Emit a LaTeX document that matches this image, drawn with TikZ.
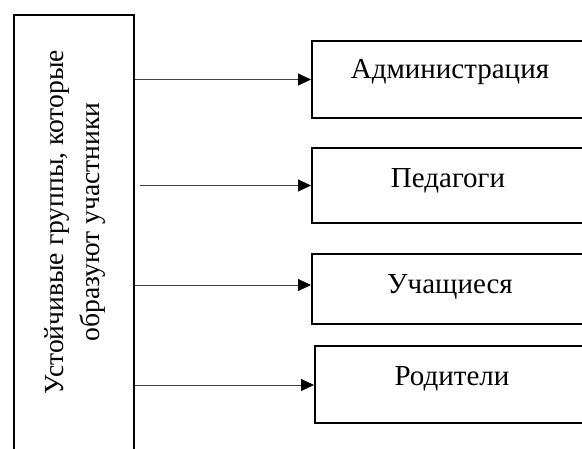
\documentclass[tikz,border=0pt]{standalone}
\usepackage{fontspec}
\setmainfont{Liberation Serif}
\usetikzlibrary{arrows.meta}
\begin{document}
\begin{tikzpicture}[x=1pt,y=-1pt,
  box/.style={draw=black, line width=2pt, inner sep=0pt, anchor=north west},
  lbl/.style={anchor=base, inner sep=0pt, font=\fontsize{29}{34}\selectfont},
  conn/.style={draw=black!75, line width=1pt, -{Triangle[length=13pt,width=12pt,fill=black,color=black]}}]
\useasboundingbox (0,0) rectangle (582,448);
\begin{scope}
\clip (0,0) rectangle (582,448);
\node[box, minimum width=120pt, minimum height=450pt] (L) at (13,14) {};
\node[rotate=90, align=center, inner sep=0pt, font=\fontsize{27.6}{36}\selectfont] (LT) at (75,222) {Устойчивые группы, которые\\образуют участники};
\node[box, minimum width=280pt, minimum height=77pt] (A) at (311,40) {};
\node[box, minimum width=280pt, minimum height=75pt] (P) at (311,147) {};
\node[box, minimum width=280pt, minimum height=70pt] (U) at (311,253) {};
\node[box, minimum width=277pt, minimum height=77pt] (R) at (314,345) {};
\node[lbl] (AT) at (450,78) {Администрация};
\node[lbl] (PT) at (448,187) {Педагоги};
\node[lbl] (UT) at (450,293) {Учащиеся};
\node[lbl] (RT) at (452,385) {Родители};
\end{scope}
\coordinate (a1) at (L.east |- A.west);
\coordinate (p1) at ([xshift=5pt]L.east |- P.west);
\coordinate (u1) at (L.east |- 0,285);
\coordinate (u2) at (U.west |- 0,285);
\coordinate (r1) at (L.east |- 0,385);
\coordinate (r2) at (R.west |- 0,385);
\draw[conn] (a1) -- (A.west);
\draw[conn] (p1) -- (P.west);
\draw[conn] (u1) -- (u2);
\draw[conn] (r1) -- (r2);
\end{tikzpicture}
\end{document}
